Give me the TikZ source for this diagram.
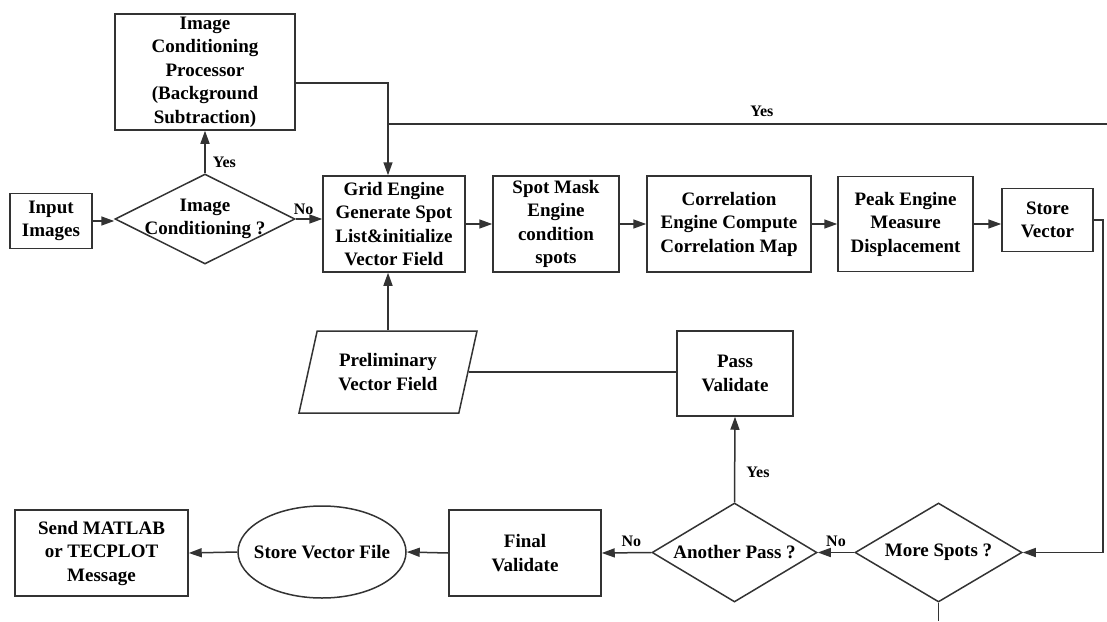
\documentclass[tikz,border=0pt]{standalone}
\usepackage{fontspec}
\setmainfont{Liberation Serif}
\usetikzlibrary{arrows.meta, positioning, shapes.geometric}

\begin{document}
\begin{tikzpicture}[
    x=1pt, y=-1pt,
    >={Triangle[length=13pt, width=9pt]},
    font=\fontsize{19}{23.5}\selectfont\bfseries,
    block/.style={
        draw=black!80,
        line width=1.5pt,
        inner sep=1pt,
        align=center
    },
    decision/.style={
        draw=black!80,
        line width=1.5pt,
        diamond,
        aspect=2,
        inner sep=0pt,
        align=center
    },
    io/.style={
        draw=black!80,
        line width=1.5pt,
        trapezium,
        trapezium left angle=65,
        trapezium right angle=115,
        trapezium stretches body,
        inner sep=1pt,
        align=center
    },
    store/.style={
        draw=black!80,
        line width=1.5pt,
        ellipse,
        inner sep=0pt
    },
    flow/.style={draw=black!80, line width=1.5pt, ->},
    link/.style={draw=black!80, line width=1.5pt},
    lab/.style={
        font=\fontsize{16}{19}\selectfont\bfseries,
        inner sep=1pt
    }
]
\useasboundingbox (0,0) rectangle (1107,621);

% ---------------- Nodes ----------------
\node[block, minimum width=180pt, minimum height=116pt] (proc) at (205,72)
    {Image\\Conditioning\\Processor\\(Background\\Subtraction)};
\node[block, minimum width=82pt, minimum height=55pt] (input) at (51,221) {Input\\Images};
\node[decision, minimum width=180pt, minimum height=90pt,
    label={[align=center]center:Image\\Conditioning ?}] (cond) at (205,219) {};

\node[block, minimum width=142pt, minimum height=96pt] (grid) at (394,224)
    {Grid Engine\\Generate Spot\\List\&initialize\\Vector Field};
\node[block, minimum width=126pt, minimum height=96pt] (mask) at (556,224)
    {Spot Mask\\Engine\\condition\\spots};
\node[block, minimum width=164pt, minimum height=96pt] (corr) at (729,224)
    {Correlation\\Engine Compute\\Correlation Map};
\node[block, minimum width=135pt, minimum height=95pt] (peak) at (905.5,224)
    {Peak Engine\\Measure\\Displacement};
\node[block, minimum width=91pt, minimum height=63pt] (vec) at (1047.5,220) {Store\\Vector};

\node[io, minimum width=178pt, minimum height=82pt] (prelim) at (388,372) {Preliminary\\Vector Field};
\node[block, minimum width=116pt, minimum height=85pt] (pass) at (735,373.5) {Pass\\Validate};

\node[decision, minimum width=167pt, minimum height=99pt] (more) at (938.5,552.5) {More Spots ?};
\node[decision, minimum width=165pt, minimum height=99pt] (another) at (734.5,552.5) {Another Pass ?};
\node[block, minimum width=152pt, minimum height=86pt] (final) at (525,553) {Final\\Validate};
\node[store, minimum width=168pt, minimum height=92pt,
    label={center:Store Vector File}] (vfile) at (322,552) {};
\node[block, minimum width=173pt, minimum height=86pt] (send) at (101.5,553)
    {Send MATLAB\\or TECPLOT\\Message};

\coordinate (jn)      at (388,124);
\coordinate (yesend)  at (1107,124);
\coordinate (moreend) at (938.5,621);

% ---------------- Main flow ----------------
\draw[flow] (input.east) -- (input.east -| cond.west);
\draw[flow] (cond.north) -- node[lab, right=6pt, pos=0.25] {Yes} (proc.south);
\draw[flow] (cond.east) -- node[lab, above=3pt, pos=0.3] {No} (cond.east -| grid.west);
\draw[flow] ([yshift=-11pt]proc.east) -| (jn |- grid.north);
\draw[link] (jn) -- node[lab, above=6pt, pos=0.52] {Yes} (yesend);

\draw[flow] (grid.east) -- (mask.west);
\draw[flow] (mask.east) -- (corr.west);
\draw[flow] (corr.east) -- (peak.west);
\draw[flow] (peak.east) -- (peak.east -| vec.west);
\draw[flow] (vec.east) -- ++(9,0) |- (more.east);

% ---------------- Passes ----------------
\draw[flow] (prelim.north) -- (prelim.north |- grid.south);
\draw[link] (prelim.east) -- (prelim.east -| pass.west);
\draw[flow] (another.north) -- node[lab, right=10pt, pos=0.35] {Yes} (pass.south);
\draw[flow] (more.west) -- node[lab, above=4pt] {No} (another.east);
\draw[link] (more.south) -- (moreend);

% ---------------- Output ----------------
\draw[flow] (another.west) -- node[lab, above=4pt, pos=0.4] {No} (final.east);
\draw[flow] (final.west) -- (vfile.east);
\draw[flow] (vfile.west) -- (send.east);

\end{tikzpicture}
\end{document}
